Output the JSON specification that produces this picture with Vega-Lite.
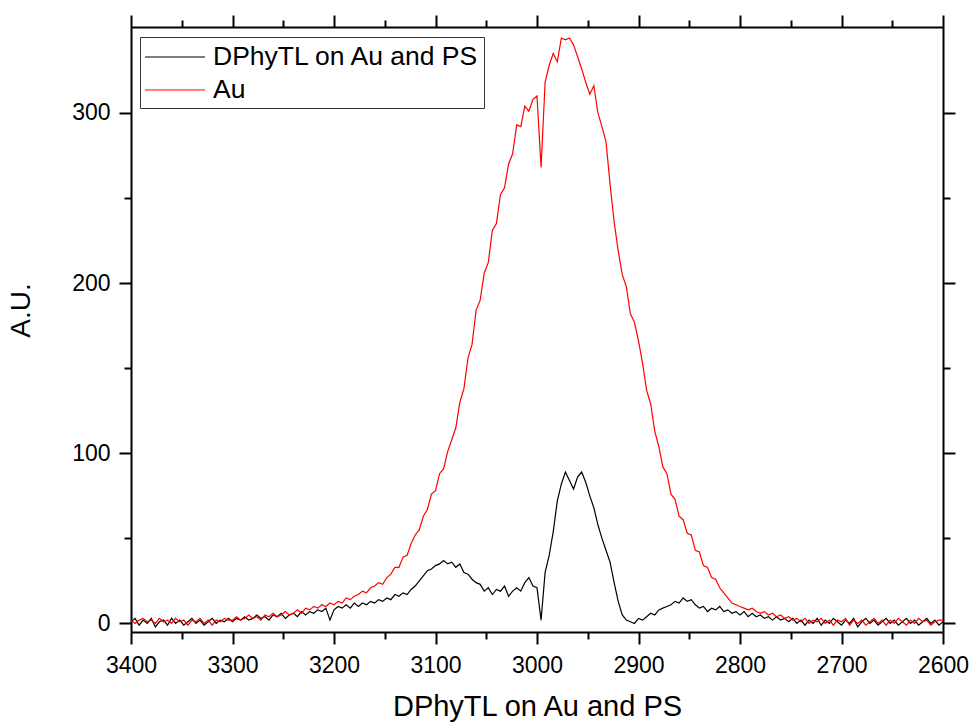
{
  "$schema": "https://vega.github.io/schema/vega-lite/v6.json",
  "width": 812,
  "height": 605,
  "autosize": {"type": "none"},
  "padding": {"left": 131, "top": 27, "right": 28, "bottom": 92},
  "background": "white",
  "config": {
    "view": {"stroke": null},
    "font": "Liberation Sans",
    "axis": {"grid": false, "domainColor": "black", "domainWidth": 2, "tickColor": "black", "tickWidth": 2, "labelColor": "black", "titleColor": "black", "labelFont": "Liberation Sans", "titleFont": "Liberation Sans", "titleFontWeight": "normal"}
  },
  "data": {"values": [
    {"x":3400,"a":1,"b":2},{"x":3396,"a":3,"b":0},{"x":3392,"a":-1,"b":2},{"x":3388,"a":2,"b":3},{"x":3384,"a":0,"b":1},
    {"x":3380,"a":3,"b":2},{"x":3376,"a":-2,"b":0},{"x":3372,"a":1,"b":3},{"x":3368,"a":2,"b":1},{"x":3364,"a":-1,"b":2},
    {"x":3360,"a":3,"b":0},{"x":3356,"a":0,"b":3},{"x":3352,"a":2,"b":1},{"x":3348,"a":-1,"b":2},{"x":3344,"a":1,"b":-1},
    {"x":3340,"a":3,"b":2},{"x":3336,"a":0,"b":1},{"x":3332,"a":2,"b":3},{"x":3328,"a":-1,"b":0},{"x":3324,"a":1,"b":2},
    {"x":3320,"a":3,"b":-1},{"x":3316,"a":0,"b":2},{"x":3312,"a":2,"b":1},{"x":3308,"a":1,"b":3},{"x":3304,"a":3,"b":2},
    {"x":3300,"a":1,"b":2},{"x":3296,"a":3,"b":4},{"x":3292,"a":2,"b":2},{"x":3288,"a":4,"b":3},{"x":3284,"a":2,"b":5},
    {"x":3280,"a":3,"b":3},{"x":3276,"a":5,"b":4},{"x":3272,"a":3,"b":2},{"x":3268,"a":4,"b":5},{"x":3264,"a":2,"b":4},
    {"x":3260,"a":5,"b":6},{"x":3256,"a":4,"b":4},{"x":3252,"a":6,"b":5},{"x":3248,"a":3,"b":7},{"x":3244,"a":5,"b":5},
    {"x":3240,"a":6,"b":6},{"x":3236,"a":4,"b":8},{"x":3232,"a":7,"b":6},{"x":3228,"a":5,"b":9},{"x":3224,"a":7,"b":8},
    {"x":3220,"a":6,"b":10},{"x":3216,"a":8,"b":9},{"x":3212,"a":7,"b":11},{"x":3208,"a":9,"b":10},{"x":3204,"a":2,"b":12},
    {"x":3200,"a":8,"b":11},{"x":3196,"a":10,"b":13},{"x":3192,"a":9,"b":12},{"x":3188,"a":11,"b":15},{"x":3184,"a":9,"b":14},
    {"x":3180,"a":12,"b":16},{"x":3176,"a":10,"b":17},{"x":3172,"a":12,"b":19},{"x":3168,"a":11,"b":18},{"x":3164,"a":13,"b":21},
    {"x":3160,"a":12,"b":22},{"x":3156,"a":14,"b":24},{"x":3152,"a":13,"b":23},{"x":3148,"a":15,"b":27},{"x":3144,"a":14,"b":29},
    {"x":3140,"a":17,"b":33},{"x":3136,"a":16,"b":33},{"x":3132,"a":18,"b":39},{"x":3128,"a":17,"b":40},{"x":3124,"a":20,"b":47},
    {"x":3120,"a":22,"b":52},{"x":3116,"a":25,"b":55},{"x":3112,"a":28,"b":63},{"x":3108,"a":31,"b":67},{"x":3104,"a":32,"b":76},
    {"x":3100,"a":34,"b":78},{"x":3096,"a":35,"b":88},{"x":3092,"a":37,"b":91},{"x":3088,"a":35,"b":101},{"x":3084,"a":36,"b":108},
    {"x":3080,"a":33,"b":115},{"x":3076,"a":35,"b":130},{"x":3072,"a":30,"b":138},{"x":3068,"a":29,"b":156},{"x":3064,"a":26,"b":164},
    {"x":3060,"a":24,"b":184},{"x":3056,"a":23,"b":190},{"x":3052,"a":19,"b":206},{"x":3048,"a":21,"b":212},{"x":3044,"a":17,"b":231},
    {"x":3040,"a":20,"b":235},{"x":3036,"a":19,"b":252},{"x":3032,"a":22,"b":256},{"x":3028,"a":16,"b":270},{"x":3024,"a":19,"b":276},
    {"x":3020,"a":21,"b":293},{"x":3016,"a":19,"b":292},{"x":3012,"a":24,"b":304},{"x":3008,"a":27,"b":301},{"x":3004,"a":22,"b":308},
    {"x":3000,"a":21,"b":310},{"x":2996,"a":2,"b":268},{"x":2992,"a":30,"b":318},{"x":2988,"a":40,"b":328},{"x":2984,"a":54,"b":335},
    {"x":2980,"a":72,"b":330},{"x":2976,"a":82,"b":344},{"x":2972,"a":89,"b":343},{"x":2968,"a":84,"b":344},{"x":2964,"a":79,"b":340},
    {"x":2960,"a":86,"b":333},{"x":2956,"a":89,"b":326},{"x":2952,"a":83,"b":318},{"x":2948,"a":75,"b":311},{"x":2944,"a":68,"b":316},
    {"x":2940,"a":58,"b":300},{"x":2936,"a":50,"b":292},{"x":2932,"a":43,"b":283},{"x":2928,"a":36,"b":258},{"x":2924,"a":24,"b":236},
    {"x":2920,"a":13,"b":219},{"x":2916,"a":5,"b":205},{"x":2912,"a":2,"b":198},{"x":2908,"a":1,"b":182},{"x":2904,"a":0,"b":177},
    {"x":2900,"a":3,"b":166},{"x":2896,"a":2,"b":153},{"x":2892,"a":4,"b":137},{"x":2888,"a":6,"b":129},{"x":2884,"a":5,"b":113},
    {"x":2880,"a":8,"b":104},{"x":2876,"a":9,"b":92},{"x":2872,"a":10,"b":88},{"x":2868,"a":11,"b":76},{"x":2864,"a":13,"b":73},
    {"x":2860,"a":12,"b":63},{"x":2856,"a":15,"b":61},{"x":2852,"a":13,"b":53},{"x":2848,"a":14,"b":52},{"x":2844,"a":11,"b":43},
    {"x":2840,"a":9,"b":42},{"x":2836,"a":10,"b":34},{"x":2832,"a":7,"b":33},{"x":2828,"a":9,"b":27},{"x":2824,"a":8,"b":26},
    {"x":2820,"a":10,"b":21},{"x":2816,"a":7,"b":18},{"x":2812,"a":8,"b":15},{"x":2808,"a":6,"b":12},{"x":2804,"a":7,"b":11},
    {"x":2800,"a":5,"b":10},{"x":2796,"a":7,"b":9},{"x":2792,"a":4,"b":8},{"x":2788,"a":6,"b":9},{"x":2784,"a":4,"b":7},
    {"x":2780,"a":5,"b":6},{"x":2776,"a":3,"b":7},{"x":2772,"a":4,"b":5},{"x":2768,"a":2,"b":6},{"x":2764,"a":4,"b":4},
    {"x":2760,"a":2,"b":5},{"x":2756,"a":3,"b":3},{"x":2752,"a":1,"b":4},{"x":2748,"a":3,"b":2},{"x":2744,"a":0,"b":3},
    {"x":2740,"a":2,"b":1},{"x":2736,"a":-1,"b":3},{"x":2732,"a":2,"b":0},{"x":2728,"a":0,"b":2},{"x":2724,"a":3,"b":1},
    {"x":2720,"a":-1,"b":3},{"x":2716,"a":2,"b":0},{"x":2712,"a":0,"b":2},{"x":2708,"a":3,"b":-1},{"x":2704,"a":1,"b":2},
    {"x":2700,"a":-1,"b":1},{"x":2696,"a":2,"b":3},{"x":2692,"a":0,"b":-1},{"x":2688,"a":3,"b":2},{"x":2684,"a":-2,"b":0},
    {"x":2680,"a":1,"b":2},{"x":2676,"a":3,"b":-1},{"x":2672,"a":0,"b":1},{"x":2668,"a":2,"b":3},{"x":2664,"a":-1,"b":0},
    {"x":2660,"a":1,"b":2},{"x":2656,"a":3,"b":-1},{"x":2652,"a":0,"b":2},{"x":2648,"a":2,"b":0},{"x":2644,"a":-1,"b":3},
    {"x":2640,"a":1,"b":1},{"x":2636,"a":3,"b":-1},{"x":2632,"a":0,"b":2},{"x":2628,"a":2,"b":0},{"x":2624,"a":-1,"b":3},
    {"x":2620,"a":1,"b":1},{"x":2616,"a":3,"b":2},{"x":2612,"a":0,"b":-1},{"x":2608,"a":2,"b":1},{"x":2604,"a":-1,"b":2},
    {"x":2600,"a":1,"b":2}
  ]},
  "transform": [{"fold": ["a", "b"], "as": ["series", "value"]}],
  "resolve": {"axis": {"x": "independent", "y": "independent"}},
  "layer": [
    {
      "mark": {"type": "line", "strokeWidth": 1.2, "clip": true},
      "encoding": {
        "x": {"field": "x", "type": "quantitative",
          "scale": {"domain": [2600, 3400], "reverse": true, "nice": false, "zero": false},
          "axis": {"orient": "bottom", "title": "DPhyTL on Au and PS", "values": [2600,2650,2700,2750,2800,2850,2900,2950,3000,3050,3100,3150,3200,3250,3300,3350,3400],
            "labelExpr": "datum.value % 100 === 0 ? datum.label : ''", "format": "d",
            "tickSize": {"condition": {"test": "datum.value % 100 === 0", "value": 12}, "value": 7},
            "labelFontSize": 23, "labelPadding": 10, "titleFontSize": 29, "titlePadding": 15, "labelFlush": false, "labelOverlap": false}},
        "y": {"field": "value", "type": "quantitative",
          "scale": {"domain": [-5, 350.5], "nice": false, "zero": false},
          "axis": {"orient": "left", "title": "A.U.", "values": [0,50,100,150,200,250,300],
            "labelExpr": "datum.value % 100 === 0 ? datum.label : ''",
            "tickSize": {"condition": {"test": "datum.value % 100 === 0", "value": 12}, "value": 7},
            "labelFontSize": 23, "labelPadding": 9, "titleFontSize": 28, "titlePadding": 36, "titleY": 283, "labelOverlap": false}},
        "color": {"field": "series", "type": "nominal",
          "scale": {"domain": ["a", "b"], "range": ["#000000", "#ff0000"]},
          "legend": {"orient": "none", "legendX": 9, "legendY": 10, "title": null,
            "labelExpr": "datum.label === 'a' ? 'DPhyTL on Au and PS' : 'Au'", "labelLimit": 0,
            "labelFontSize": 26.5, "labelFont": "Liberation Sans", "labelColor": "black", "labelOffset": 37,
            "symbolType": "M-1,0L3,0", "symbolSize": 900, "symbolStrokeWidth": 1.2,
            "rowPadding": 3, "padding": 4, "strokeColor": "#333333", "fillColor": "white"}}
      }
    },
    {
      "mark": {"type": "line", "strokeOpacity": 0, "clip": true},
      "encoding": {
        "x": {"field": "x", "type": "quantitative",
          "axis": {"orient": "top", "title": null, "labels": false, "values": [2600,2650,2700,2750,2800,2850,2900,2950,3000,3050,3100,3150,3200,3250,3300,3350,3400],
            "tickSize": {"condition": {"test": "datum.value % 100 === 0", "value": 12}, "value": 7}}},
        "y": {"field": "value", "type": "quantitative",
          "axis": {"orient": "right", "title": null, "labels": false, "values": [0,50,100,150,200,250,300],
            "tickSize": {"condition": {"test": "datum.value % 100 === 0", "value": 12}, "value": 7}}},
        "detail": {"field": "series"}
      }
    }
  ]
}
